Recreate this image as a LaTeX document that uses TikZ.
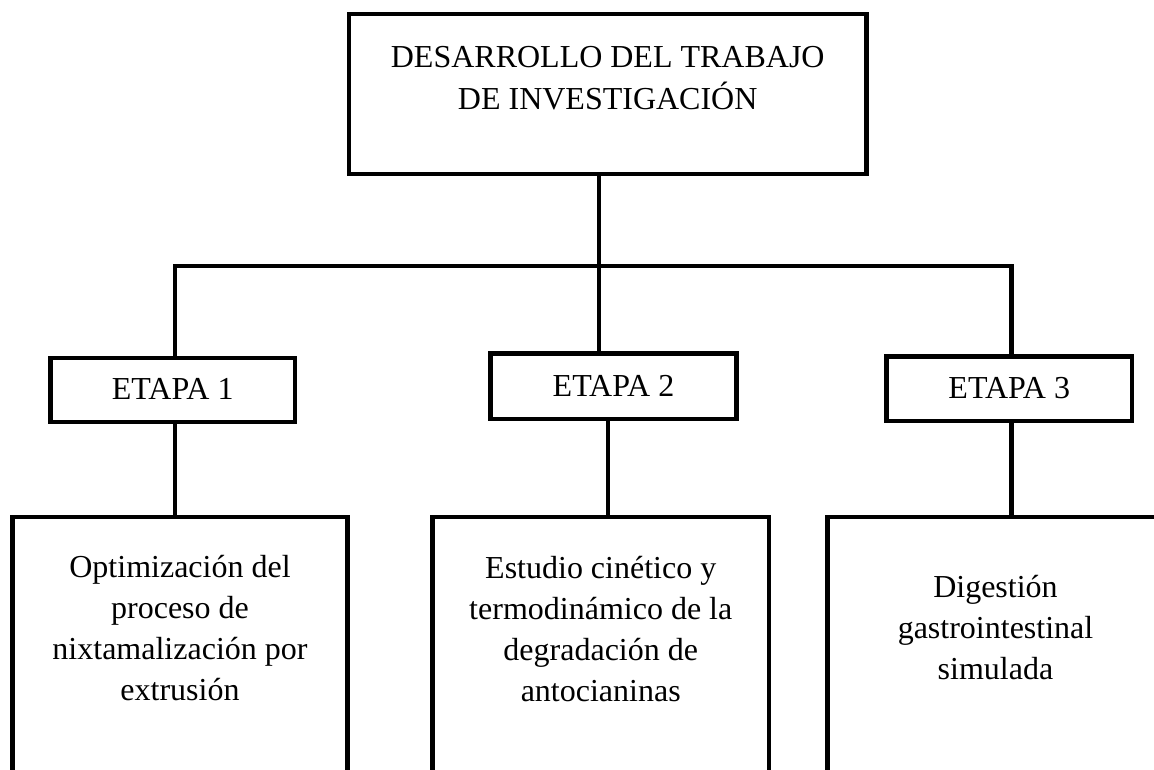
\documentclass[tikz,border=0pt]{standalone}
\usepackage{fontspec}
\setmainfont{Liberation Serif}
\begin{document}
\begin{tikzpicture}[x=1pt,y=-1pt,
  boxline/.style={draw=black,line width=4.3pt,rectangle,inner sep=0pt},
  conn/.style={draw=black,line width=4.3pt},
  toptext/.style={inner sep=0pt,anchor=base,font=\fontsize{32}{42}\selectfont},
  lowtext/.style={inner sep=0pt,anchor=base,font=\fontsize{32}{41}\selectfont},
  etext/.style={inner sep=0pt,anchor=base,font=\fontsize{32}{40}\selectfont}]
\useasboundingbox (0,0) rectangle (1154,769);
\clip (0,0) rectangle (1154,769);
\fill[white] (0,0) rectangle (1154,769);

% top box
\node[boxline,minimum width=517.5pt,minimum height=160pt] (top) at (607.75,94) {};
\node[toptext] (ttop) at (607.75,67) {\parbox[t]{500pt}{\centering DESARROLLO DEL TRABAJO\\DE INVESTIGACIÓN}};

% stage boxes
\node[boxline,minimum width=244.5pt,minimum height=64pt] (e1) at (172.75,390) {};
\node[etext] (te1) at (172.75,399) {ETAPA 1};
\node[boxline,minimum width=246pt,minimum height=65.5pt] (e2) at (613.5,386.25) {};
\node[etext] (te2) at (613.5,396) {ETAPA 2};
\node[boxline,minimum width=245.5pt,minimum height=64.5pt] (e3) at (1009.25,388.75) {};
\node[etext] (te3) at (1009.25,398) {ETAPA 3};

% bottom boxes (extend beyond the page)
\node[boxline,minimum width=335pt,minimum height=283pt] (b1) at (180,658.5) {};
\node[lowtext] (tb1) at (180,577) {\parbox[t]{330pt}{\centering Optimización del\\proceso de\\nixtamalización por\\extrusión}};
\node[boxline,minimum width=336.5pt,minimum height=283pt] (b2) at (600.75,658.5) {};
\node[lowtext] (tb2) at (600.75,578) {\parbox[t]{330pt}{\centering Estudio cinético y\\termodinámico de la\\degradación de\\antocianinas}};
\node[boxline,minimum width=336pt,minimum height=283pt] (b3) at (995.5,658.5) {};
\node[lowtext] (tb3) at (995.5,597) {\parbox[t]{330pt}{\centering Digestión\\gastrointestinal\\simulada}};

% junction coordinates
\coordinate (j) at (599,266);
\coordinate (jl) at (175,266);
\coordinate (jr) at (1011.5,266);
\coordinate (k2) at (608.3,0);

% connectors
\draw[conn] (top.south -| j) -- (e2.north -| j);
\draw[conn] (e1.north -| jl) -- (jl) -- (jr) -- (e3.north -| jr);
\draw[conn] (e1.south -| jl) -- (b1.north -| jl);
\draw[conn] (e2.south -| k2) -- (b2.north -| k2);
\draw[conn] (e3.south -| jr) -- (b3.north -| jr);
\end{tikzpicture}
\end{document}
